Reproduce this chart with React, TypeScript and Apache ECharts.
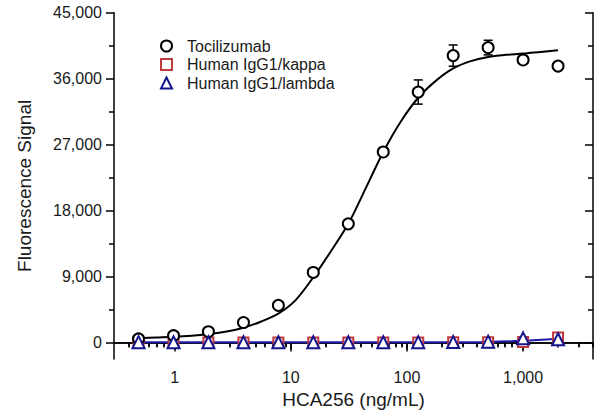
import React, { useEffect, useRef } from "react";
import * as echarts from "echarts";

// concentrations (ng/mL)
const conc = [0.488, 0.977, 1.95, 3.91, 7.81, 15.6, 31.25, 62.5, 125, 250, 500, 1000, 2000];
const tocilizumab = [500, 945, 1485, 2740, 5080, 9570, 16200, 26000, 34180, 39150, 40240, 38550, 37720];
const tocilizumabErr = [280, 260, 300, 0, 300, 0, 280, 300, 1650, 1450, 1000, 0, 0];
const kappa = [40, 30, 30, 30, 30, 30, 30, 30, 30, 40, 60, 80, 680];
const lambda = [60, 50, 50, 50, 50, 50, 50, 50, 60, 80, 130, 580, 450];

// fitted curve readings
const fitX = [0.49, 0.7, 1, 1.4, 2, 2.8, 3.9, 5.5, 7.8, 11, 15.6, 22, 31.25, 44, 62.5, 88, 125, 177, 250, 354, 500, 707, 1000, 1414, 2000];
const fitY = [600, 700, 800, 950, 1170, 1500, 2020, 2850, 3950, 5800, 8900, 12400, 16200, 21000, 26000, 30100, 33400, 35700, 37400, 38400, 38970, 39250, 39420, 39650, 39870];
const lambdaFitY = [40, 40, 40, 40, 40, 40, 40, 40, 45, 60, 90, 250, 530];

const xMajor = [1, 10, 100, 1000];
const xMinor = [0.4, 0.5, 0.6, 0.7, 0.8, 0.9, 2, 3, 4, 5, 6, 7, 8, 9, 20, 30, 40, 50, 60, 70, 80, 90, 200, 300, 400, 500, 600, 700, 800, 900, 2000, 3000, 4000];
const yMajor = [0, 9000, 18000, 27000, 36000, 45000];
const yMinor = [4500, 13500, 22500, 31500, 40500];

const FONT = '"Liberation Sans", Arial, sans-serif';
const TXT = "#1a1a1a";
const RED = "#c0393f";
const BLUE = "#14148c";

export default function App() {
  const ref = useRef<HTMLDivElement>(null);
  useEffect(() => {
    if (!ref.current) return;
    const chart = echarts.init(ref.current, undefined, { renderer: "svg" });
    const fmt = (v: number) => Number(v).toLocaleString("en-US");
    const X_MIN = 0.3, X_MAX = 4000, Y_MIN = -2250, Y_MAX = 45000;
    const line = { lineStyle: { color: "#000", width: 1.5 } };
    const xBase = { type: "log", min: X_MIN, max: X_MAX, logBase: 10, splitLine: { show: false } };
    const yBase = { type: "value", min: Y_MIN, max: Y_MAX, splitLine: { show: false } };
    chart.setOption({
      animation: false,
      grid: { left: 114, right: 7, top: 12.7, bottom: 51.3, containLabel: false },
      legend: {
        orient: "vertical",
        left: 160,
        top: 38,
        padding: 0,
        itemWidth: 11,
        itemHeight: 11,
        itemGap: 2.5,
        selectedMode: false,
        data: ["Tocilizumab", "Human IgG1/kappa", "Human IgG1/lambda"],
        textStyle: { fontFamily: FONT, fontSize: 16, color: TXT, padding: [0, 0, 0, 10] },
      },
      xAxis: [
        {
          ...xBase,
          position: "bottom",
          axisLine: { show: true, ...line },
          axisTick: { show: true, customValues: xMajor, length: 9, ...line },
          axisLabel: { customValues: xMajor, formatter: fmt, fontFamily: FONT, fontSize: 16, color: TXT, margin: 10 },
          name: "HCA256 (ng/mL)",
          nameLocation: "middle",
          nameGap: 26,
          nameTextStyle: { fontFamily: FONT, fontSize: 19, color: TXT },
        },
        {
          ...xBase,
          position: "bottom",
          axisLine: { show: false },
          axisTick: { show: true, customValues: xMinor, length: 5, ...line },
          axisLabel: { show: false },
        },
        {
          ...xBase,
          position: "top",
          axisLine: { show: true, ...line },
          axisTick: { show: true, inside: true, customValues: xMajor, length: 7, ...line },
          axisLabel: { show: false },
        },
        {
          ...xBase,
          position: "top",
          axisLine: { show: false },
          axisTick: { show: true, inside: true, customValues: xMinor, length: 4, ...line },
          axisLabel: { show: false },
        },
      ],
      yAxis: [
        {
          ...yBase,
          position: "left",
          axisLine: { show: true, ...line },
          axisTick: { show: true, customValues: yMajor, length: 8, ...line },
          axisLabel: { customValues: yMajor, formatter: fmt, fontFamily: FONT, fontSize: 16, color: TXT, margin: 12 },
          name: "Fluorescence Signal",
          nameLocation: "middle",
          nameGap: 80,
          nameTextStyle: { fontFamily: FONT, fontSize: 19, color: TXT },
        },
        {
          ...yBase,
          position: "left",
          axisLine: { show: false },
          axisTick: { show: true, customValues: yMinor, length: 5, ...line },
          axisLabel: { show: false },
        },
        {
          ...yBase,
          position: "right",
          axisLine: { show: true, ...line },
          axisTick: { show: true, inside: true, customValues: yMajor, length: 8, ...line },
          axisLabel: { show: false },
        },
        {
          ...yBase,
          position: "right",
          axisLine: { show: false },
          axisTick: { show: true, inside: true, customValues: yMinor, length: 5, ...line },
          axisLabel: { show: false },
        },
      ],
      series: [
        {
          name: "Tocilizumab fit",
          type: "line",
          data: fitX.map((x, i) => [x, fitY[i]]),
          symbol: "none",
          smooth: 0.3,
          lineStyle: { color: "#000", width: 2 },
          z: 2,
          silent: true,
        },
        {
          name: "Human IgG1/lambda fit",
          type: "line",
          data: conc.map((x, i) => [x, lambdaFitY[i]]),
          symbol: "none",
          smooth: 0.3,
          lineStyle: { color: "#1c1cac", width: 2 },
          z: 2,
          silent: true,
        },
        {
          name: "Tocilizumab err",
          type: "custom",
          data: conc.map((x, i) => [x, tocilizumab[i], tocilizumabErr[i]]),
          encode: { x: 0, y: 1 },
          z: 3,
          silent: true,
          renderItem: (params: any, api: any) => {
            const x = api.value(0), y = api.value(1), e = api.value(2);
            if (!e) return null;
            const t = api.coord([x, y + e]);
            const b = api.coord([x, y - e]);
            const hw = 4.5;
            const st = { stroke: "#000", lineWidth: 1.5 };
            return {
              type: "group",
              children: [
                { type: "line", shape: { x1: t[0], y1: t[1], x2: b[0], y2: b[1] }, style: st },
                { type: "line", shape: { x1: t[0] - hw, y1: t[1], x2: t[0] + hw, y2: t[1] }, style: st },
                { type: "line", shape: { x1: b[0] - hw, y1: b[1], x2: b[0] + hw, y2: b[1] }, style: st },
              ],
            };
          },
        },
        {
          name: "Tocilizumab",
          type: "scatter",
          data: conc.map((x, i) => [x, tocilizumab[i]]),
          symbol: "emptyCircle",
          symbolSize: 11,
          itemStyle: { color: "#000", borderColor: "#000", borderWidth: 1.5, opacity: 1 },
          z: 5,
        },
        {
          name: "Human IgG1/kappa",
          type: "scatter",
          data: conc.map((x, i) => [x, kappa[i]]),
          symbol: "emptyRect",
          symbolSize: 10,
          itemStyle: { color: RED, borderColor: RED, borderWidth: 1.5, opacity: 1 },
          z: 4,
        },
        {
          name: "Human IgG1/lambda",
          type: "scatter",
          data: conc.map((x, i) => [x, lambda[i]]),
          symbol: "emptyTriangle",
          symbolSize: 12,
          itemStyle: { color: BLUE, borderColor: BLUE, borderWidth: 1.6, opacity: 1 },
          z: 5,
        },
      ],
    });
    return () => chart.dispose();
  }, []);
  return <div ref={ref} style={{ position: "fixed", left: 0, top: 0, width: 600, height: 414, background: "#fff" }} />;
}
